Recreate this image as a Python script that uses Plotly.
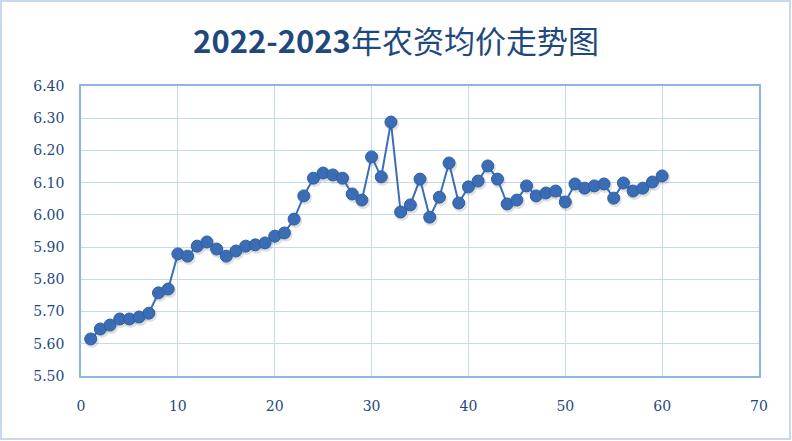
import plotly.graph_objects as go

months = list(range(1, 61))
prices = [5.615, 5.646, 5.658, 5.677, 5.677, 5.683, 5.695, 5.758, 5.770, 5.879,
          5.872, 5.903, 5.916, 5.894, 5.872, 5.888, 5.903, 5.907, 5.913, 5.934,
          5.944, 5.987, 6.059, 6.114, 6.130, 6.124, 6.114, 6.065, 6.046, 6.180,
          6.118, 6.288, 6.009, 6.031, 6.111, 5.993, 6.055, 6.161, 6.037, 6.087,
          6.105, 6.152, 6.111, 6.034, 6.046, 6.090, 6.059, 6.068, 6.074, 6.040,
          6.096, 6.083, 6.090, 6.096, 6.052, 6.099, 6.074, 6.083, 6.102, 6.121]
x_ticks = [0, 10, 20, 30, 40, 50, 60, 70]
y_ticks = [5.5, 5.6, 5.7, 5.8, 5.9, 6.0, 6.1, 6.2, 6.3, 6.4]
title_text = "<b>2022-2023</b>年农资均价走势图"

W, H = 792, 441
L, R, T, B = 81, 33, 86, 65
pw, ph = W - L - R, H - T - B

tick_font = dict(family="'DejaVu Serif', serif", size=14, color="#1F497D")

fig = go.Figure()
# soft shadow under markers
fig.add_trace(go.Scatter(
    x=[m + 0.12 for m in months], y=[p - 0.006 for p in prices],
    mode="markers", hoverinfo="skip", showlegend=False,
    marker=dict(size=14, color="rgba(60,60,60,0.16)", line=dict(width=0)),
))
fig.add_trace(go.Scatter(
    x=months, y=prices, mode="lines+markers", showlegend=False,
    line=dict(color="#3A6DB5", width=2),
    marker=dict(size=12, color="#3A6DB5", line=dict(color="#2F5F9F", width=1)),
))

fig.update_layout(
    width=W, height=H,
    margin=dict(l=L, r=R, t=T, b=B),
    paper_bgcolor="white", plot_bgcolor="white",
    title=dict(text=title_text, x=0.5, xanchor="center", y=1 - 42 / H, yanchor="middle",
               font=dict(family="'Noto Sans CJK SC', sans-serif", size=31, color="#1F497D")),
    xaxis=dict(range=[0, 70], tickvals=x_ticks, ticktext=[str(v) for v in x_ticks],
               showgrid=True, gridcolor="#C6D9F1", gridwidth=1,
               showline=True, linecolor="#8DB4E2", linewidth=1.5, mirror=True,
               zeroline=False, ticks="", ticklabelstandoff=16, tickfont=tick_font),
    yaxis=dict(range=[5.5, 6.4], tickvals=y_ticks, ticktext=[f"{v:.2f}" for v in y_ticks],
               showgrid=True, gridcolor="#C6D9F1", gridwidth=1,
               showline=True, linecolor="#8DB4E2", linewidth=1.5, mirror=True,
               zeroline=False, ticks="", ticklabelstandoff=12, tickfont=tick_font),
    shapes=[dict(type="rect", xref="paper", yref="paper",
                 x0=(1 - L) / pw, x1=(W - 2 - L) / pw,
                 y0=-(H - 2 - (T + ph)) / ph, y1=1 + (T - 1) / ph,
                 line=dict(color="#C6D9F1", width=2), layer="below")],
)

fig.write_html("out.html", config={"displayModeBar": False},
               post_script="document.body.style.margin='0';document.body.style.padding='0';")
